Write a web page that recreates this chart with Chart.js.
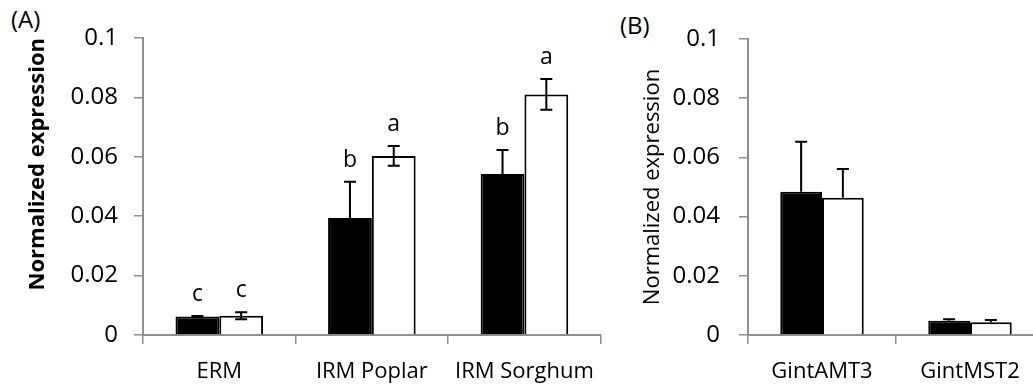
<!DOCTYPE html>
<html>
<head>
<meta charset="utf-8">
<script src="https://cdn.jsdelivr.net/npm/chart.js@4/dist/chart.umd.min.js"></script>
<style>
  html, body { margin: 0; padding: 0; background: #fff; }
  body { width: 1033px; height: 385px; overflow: hidden; position: relative; }
  .panel { position: absolute; top: 0; }
  .tag { position: absolute; font: 24px 'Open Sans', sans-serif; color: #000; }
</style>
</head>
<body>
<div class="tag" style="left:11px; top:2px;">(A)</div>
<div class="tag" style="left:620px; top:8px;">(B)</div>
<canvas id="chartA" class="panel" style="left:0px;" width="610" height="385"></canvas>
<canvas id="chartB" class="panel" style="left:610px;" width="440" height="385"></canvas>
<script>
// Panel A data
const labelsA = ['ERM', 'IRM Poplar', 'IRM Sorghum'];
const blackA = [0.0062, 0.0394, 0.0542];
const whiteA = [0.0065, 0.0603, 0.0810];
const blackErrA = [0.0002, 0.0122, 0.0081];
const whiteErrA = [0.0012, 0.0033, 0.0052];
const blackLettersA = ['c', 'b', 'b'];
const whiteLettersA = ['c', 'a', 'a'];

// Panel B data
const labelsB = ['GintAMT3', 'GintMST2'];
const blackB = [0.0484, 0.0048];
const whiteB = [0.0464, 0.0043];
const blackErrB = [0.0169, 0.0005];
const whiteErrB = [0.0097, 0.0008];

// Y axis ticks
const yTicks = [0, 0.02, 0.04, 0.06, 0.08, 0.1];

const FONT = "'Open Sans', sans-serif";
const AXIS_GRAY = '#8e8e8e';

// draws error bars + significance letters from the dataset's extra fields
const errorBarPlugin = {
    id: 'errorBars',
    afterDatasetsDraw(chart) {
        const ctx = chart.ctx;
        const y = chart.scales.y;
        chart.data.datasets.forEach((ds, di) => {
            const meta = chart.getDatasetMeta(di);
            meta.data.forEach((bar, i) => {
                const v = ds.data[i];
                const e = ds.errors[i];
                const yTop = y.getPixelForValue(v + e);
                const yBot = ds.twoSided ? y.getPixelForValue(v - e) : bar.y;
                ctx.save();
                ctx.strokeStyle = '#000';
                ctx.lineWidth = 2;
                ctx.beginPath();
                ctx.moveTo(bar.x, yTop);
                ctx.lineTo(bar.x, yBot);
                ctx.moveTo(bar.x - 6, yTop);
                ctx.lineTo(bar.x + 6, yTop);
                if (ds.twoSided) {
                    ctx.moveTo(bar.x - 6, yBot);
                    ctx.lineTo(bar.x + 6, yBot);
                }
                ctx.stroke();
                if (ds.letters) {
                    ctx.fillStyle = '#000';
                    ctx.font = '23px ' + FONT;
                    ctx.textAlign = 'center';
                    ctx.textBaseline = 'alphabetic';
                    ctx.fillText(ds.letters[i], bar.x, yTop - 15);
                }
                ctx.restore();
            });
        });
    }
};

function makeChart(id, labels, black, white, blackErr, whiteErr, opts) {
    return new Chart(document.getElementById(id), {
        type: 'bar',
        data: {
            labels: labels,
            datasets: [
                { data: black, errors: blackErr, letters: opts.blackLetters, twoSided: opts.twoSided,
                  backgroundColor: '#000', borderColor: '#000', borderWidth: 2,
                  categoryPercentage: opts.catPct, barPercentage: 1 },
                { data: white, errors: whiteErr, letters: opts.whiteLetters, twoSided: opts.twoSided,
                  backgroundColor: '#fff', borderColor: '#000', borderWidth: 2,
                  categoryPercentage: opts.catPct, barPercentage: 1 }
            ]
        },
        options: {
            responsive: false,
            animation: false,
            layout: { padding: { top: opts.top, right: opts.right, left: 0, bottom: 0 } },
            plugins: { legend: { display: false }, tooltip: { enabled: false } },
            scales: {
                x: {
                    offset: true,
                    grid: { offset: true, drawOnChartArea: false, drawTicks: true, tickLength: 9, color: AXIS_GRAY, lineWidth: 1.5 },
                    border: { color: AXIS_GRAY, width: 2 },
                    ticks: { color: '#000', font: { family: FONT, size: 22 }, padding: 15, maxRotation: 0 },
                    afterFit: s => { s.height = 50; }
                },
                y: {
                    min: 0,
                    max: 0.1,
                    afterBuildTicks: s => { s.ticks = yTicks.map(v => ({ value: v })); },
                    grid: { drawOnChartArea: false, drawTicks: true, tickLength: 9, color: AXIS_GRAY, lineWidth: 1.5 },
                    border: { color: AXIS_GRAY, width: 2 },
                    ticks: {
                        color: '#000', font: { family: FONT, size: 24 }, padding: opts.tickPad,
                        callback: v => String(+v.toFixed(2))
                    },
                    title: {
                        display: true,
                        text: 'Normalized expression',
                        color: '#000',
                        align: opts.titleAlign,
                        font: { family: FONT, size: 22, weight: opts.titleWeight },
                        padding: { top: opts.titlePad, bottom: 0 }
                    },
                    afterFit: s => { s.width = opts.yWidth; }
                }
            }
        },
        plugins: [errorBarPlugin]
    });
}

makeChart('chartA', labelsA, blackA, whiteA, blackErrA, whiteErrA, {
    blackLetters: blackLettersA, whiteLetters: whiteLettersA, twoSided: true,
    catPct: 0.574, top: 38, right: 7, yWidth: 143, tickPad: 16,
    titleAlign: 'end', titleWeight: 'bold', titlePad: 25
});

makeChart('chartB', labelsB, blackB, whiteB, blackErrB, whiteErrB, {
    blackLetters: null, whiteLetters: null, twoSided: false,
    catPct: 0.564, top: 39, right: 6, yWidth: 138, tickPad: 19,
    titleAlign: 'center', titleWeight: 'normal', titlePad: 30
});
</script>
</body>
</html>
